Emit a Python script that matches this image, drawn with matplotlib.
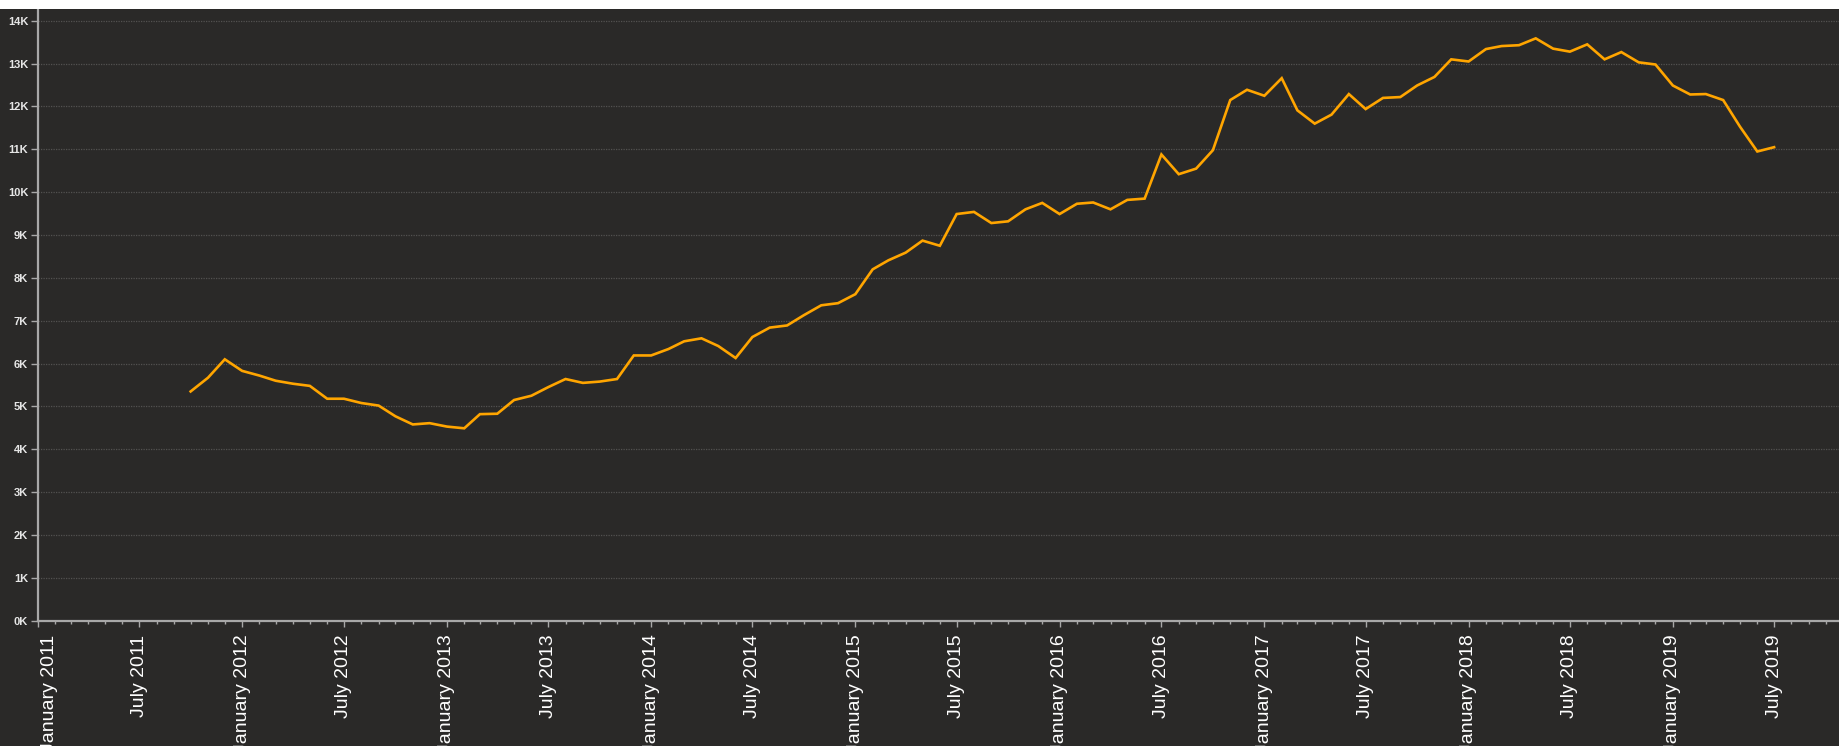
import matplotlib
matplotlib.use("Agg")
import matplotlib.pyplot as plt
import matplotlib.dates as mdates
from matplotlib.patches import Rectangle
from matplotlib.ticker import FuncFormatter, MultipleLocator
from matplotlib.transforms import ScaledTranslation
import pandas as pd

# Colors
bg_dark = "#2a2928"
line_orange = "#ffa500"
grid_gray = "#525150"
axis_gray = "#a8a8a8"

# Monthly values (thousands), first month October 2011
first_month = "2011-10-01"
values_k = [
    5.35, 5.67, 6.10, 5.83, 5.72, 5.60, 5.53, 5.48, 5.18, 5.18,
    5.08, 5.02, 4.77, 4.58, 4.61, 4.53, 4.49, 4.82, 4.83, 5.15,
    5.25, 5.45, 5.64, 5.55, 5.58, 5.64, 6.19, 6.19, 6.34, 6.52,
    6.59, 6.41, 6.13, 6.62, 6.84, 6.89, 7.13, 7.36, 7.41, 7.62,
    8.20, 8.41, 8.59, 8.87, 8.75, 9.49, 9.54, 9.28, 9.32, 9.60,
    9.75, 9.49, 9.73, 9.76, 9.60, 9.82, 9.85, 10.88, 10.42, 10.55,
    10.98, 12.15, 12.39, 12.25, 12.66, 11.91, 11.60, 11.81, 12.29, 11.94,
    12.20, 12.22, 12.49, 12.69, 13.10, 13.05, 13.34, 13.41, 13.43, 13.59,
    13.35, 13.28, 13.45, 13.10, 13.27, 13.03, 12.98, 12.49, 12.28, 12.29,
    12.15, 11.53, 10.95, 11.05,
]
values = [v * 1000 for v in values_k]
dates = pd.date_range(first_month, periods=len(values), freq="MS")

W, H = 1839, 746
fig = plt.figure(figsize=(W / 100, H / 100), dpi=100, facecolor=bg_dark)
# thin white strip along the top
fig.patches.append(
    Rectangle((0, 1 - 9 / H), 1, 9 / H, transform=fig.transFigure,
              facecolor="white", edgecolor="none", zorder=10)
)

left, bottom, top = 37.9, 620.7, 9
axs = fig.add_axes([left / W, (H - bottom) / H, (W - left) / W, (bottom - top) / H])
axs.set_facecolor(bg_dark)

axs.plot(dates, values, color=line_orange, linewidth=1.9, solid_joinstyle="miter", zorder=3)

axs.set_xlim(pd.Timestamp("2011-01-01"), pd.Timestamp("2019-10-25"))
axs.set_ylim(0, 14275)

# y axis
axs.yaxis.set_major_locator(MultipleLocator(1000))
axs.yaxis.set_major_formatter(FuncFormatter(lambda v, p: f"{int(round(v / 1000))}K"))
axs.grid(axis="y", color=grid_gray, linestyle=(0, (1, 1)), linewidth=0.9)
axs.set_axisbelow(True)

# x axis
axs.xaxis.set_major_locator(mdates.MonthLocator(bymonth=[1, 7]))
axs.xaxis.set_major_formatter(mdates.DateFormatter("%B %Y"))
axs.xaxis.set_minor_locator(mdates.MonthLocator())

for s in ["top", "right"]:
    axs.spines[s].set_visible(False)
for s in ["left", "bottom"]:
    axs.spines[s].set_color(axis_gray)
    axs.spines[s].set_linewidth(1.6)

axs.tick_params(axis="y", which="major", colors=axis_gray, length=5, width=1,
                pad=2, labelsize=8, labelcolor="#e6e6e6")
for lbl in axs.get_yticklabels():
    lbl.set_fontweight("bold")
    lbl.set_family("Liberation Sans")

axs.tick_params(axis="x", which="major", colors=axis_gray, length=4, width=1,
                pad=6, labelsize=14, labelcolor="white")
axs.tick_params(axis="x", which="minor", colors=axis_gray, length=2, width=1)
xlabels = axs.get_xticklabels()
for lbl in xlabels:
    lbl.set_rotation(90)
    lbl.set_family("Liberation Sans")
    lbl.set_horizontalalignment("center")
    lbl.set_verticalalignment("top")
# first label sits a little right of its tick, like the original
xlabels[0].set_transform(xlabels[0].get_transform()
                         + ScaledTranslation(12 / 100, 0, fig.dpi_scale_trans))

fig.savefig("out.png", dpi=100, facecolor=fig.get_facecolor())
